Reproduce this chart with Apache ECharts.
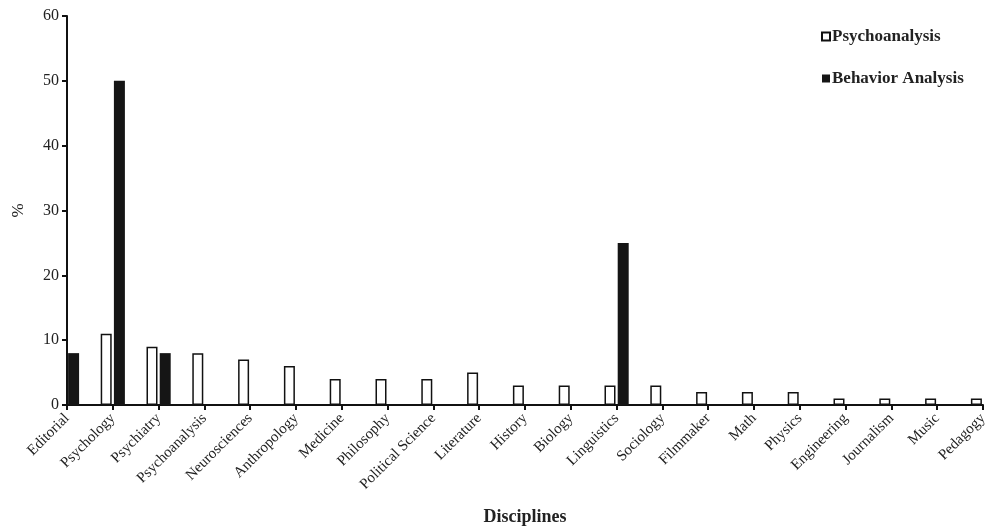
<!DOCTYPE html>
<html><head><meta charset="utf-8">
<script src="https://cdn.jsdelivr.net/npm/echarts@6/dist/echarts.min.js"></script>
<style>html,body{margin:0;padding:0;background:#fff}#c{width:998px;height:526px}</style>
</head><body><div id="c"></div>
<script>
const categories = ["Editorial","Psychology","Psychiatry","Psychoanalysis","Neurosciences","Anthropology","Medicine","Philosophy","Political Science","Literature","History","Biology","Linguistics","Sociology","Filmmaker","Math","Physics","Engineering","Journalism","Music","Pedagogy"];
const psychoanalysis = [null,11,9,8,7,6,4,4,4,5,3,3,3,3,2,2,2,1,1,1,1];
const behaviorAnalysis = [8,50,8,null,null,null,null,null,null,null,null,null,25,null,null,null,null,null,null,null,null];
const yTicks = [0,10,20,30,40,50,60];

const serif = '"Liberation Serif","Times New Roman",serif';
const chart = echarts.init(document.getElementById('c'), null, {renderer:'canvas'});
chart.setOption({
  animation:false,
  backgroundColor:'#fff',
  grid:{left:67,right:15,top:16,bottom:121,containLabel:false,outerBoundsMode:'none'},
  legend:{
    orient:'vertical', left:816, top:23, itemGap:25, itemWidth:8, itemHeight:8, icon:'rect',
    textStyle:{fontFamily:serif,fontWeight:'bold',fontSize:17,color:'#222',padding:[0,0,0,-3]},
    data:['Psychoanalysis','Behavior Analysis']
  },
  xAxis:{
    type:'category', data:categories, boundaryGap:false,
    name:'Disciplines', nameLocation:'middle', nameGap:103,
    nameTextStyle:{fontFamily:serif,fontWeight:'bold',fontSize:18,color:'#222'},
    axisLine:{lineStyle:{color:'#111',width:2}},
    axisTick:{length:5,lineStyle:{color:'#111',width:2}},
    axisLabel:{rotate:45,margin:11,fontFamily:serif,fontSize:15,color:'#222',interval:0},
    splitLine:{show:false}
  },
  yAxis:{
    type:'value', min:yTicks[0], max:yTicks[yTicks.length-1], interval:10,
    name:'%', nameLocation:'middle', nameGap:40,
    nameTextStyle:{fontFamily:serif,fontSize:17,color:'#222'},
    axisLine:{show:true,lineStyle:{color:'#111',width:2}},
    axisTick:{show:true,length:5,lineStyle:{color:'#111',width:2}},
    axisLabel:{fontFamily:serif,fontSize:16,color:'#222',margin:8},
    splitLine:{show:false}
  },
  series:[
    {name:'Psychoanalysis',type:'bar',data:psychoanalysis,barWidth:11,barGap:'20%',
     itemStyle:{color:'#fff',borderColor:'#111',borderWidth:1.5}},
    {name:'Behavior Analysis',type:'bar',data:behaviorAnalysis,barWidth:11,barGap:'20%',
     itemStyle:{color:'#151515',borderColor:'#151515',borderWidth:0}}
  ]
});
</script></body></html>
